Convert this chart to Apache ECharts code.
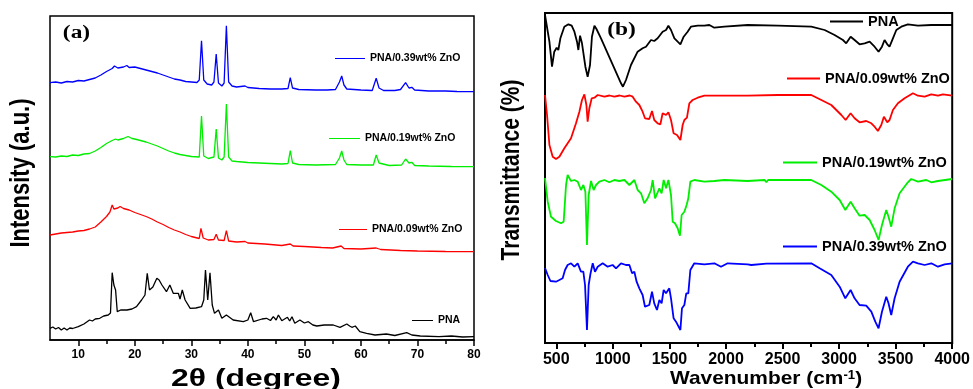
<!DOCTYPE html>
<html><head><meta charset="utf-8">
<script src="https://cdn.jsdelivr.net/npm/echarts@6/dist/echarts.min.js"></script>
<style>html,body{margin:0;padding:0;background:#fff}#c{width:973px;height:389px}</style>
</head><body><div id="c"></div><script>
// ---------- Panel (a): XRD, [2theta (deg), intensity (a.u.)] ----------
const xrdTicks = [10, 20, 30, 40, 50, 60, 70, 80];
const xrdMinorTicks = [15, 25, 35, 45, 55, 65, 75];
const xrdPNA = [[5,11.7],[5.5,13],[6,11],[6.5,12.5],[7,10],[7.5,12],[8,10],[8.5,12],[9,11.5],[10,13.3],[11,16],[12,20],[12.5,19],[13,21],[13.8,21.7],[14.5,24],[15.3,25],[15.7,27],[16.0,67.3],[16.3,55],[16.6,50],[16.9,28.3],[17.5,30],[18.6,30],[19.5,31],[20.3,33.3],[21.2,40],[21.8,45],[22.2,66.7],[22.6,50],[23.2,53],[23.9,61.7],[24.3,60],[24.8,55],[25.6,48.3],[26.2,55],[26.8,46.7],[27.7,46.7],[28.0,41],[28.4,50],[28.9,40],[29.8,31.7],[30.8,32],[31.8,33.3],[32.2,40],[32.5,70],[32.9,40],[33.3,67.3],[33.7,35],[34.1,26.7],[34.8,30],[35.4,21.7],[36.2,25],[37.4,20],[39.2,18.3],[40.0,20],[40.5,27.3],[41.0,18.3],[42.5,21],[43.3,21.7],[44.0,19.5],[44.5,23.3],[45.0,20],[45.4,25],[46.0,19.3],[47.0,22.7],[47.4,19],[47.8,23.3],[48.3,16.7],[49.2,20],[50.0,17],[50.7,18.3],[51.5,15],[52.2,14],[53.5,15],[55.1,15],[56.3,12.7],[57.5,16],[58.0,14],[58.4,12.7],[59.0,14],[59.8,8.3],[61.0,6.7],[62.5,5],[64.5,6],[66,4.5],[68.1,7.3],[69,5],[70.5,4],[73.8,3.3],[76,4],[78,3],[80,3.3]];
const xrdZnO009 = [[5,105],[6,106],[7,107],[8,107.5],[9,108],[10,109],[11,109.5],[12,111],[13,113],[14,118],[15,123.5],[15.6,128],[16.0,135],[16.3,131],[17,132],[17.4,133.5],[18,131.5],[19,130],[20,127.5],[21,125.5],[22,123.5],[23,121],[24,118],[25,115.5],[26,112.5],[27,110],[28,108],[29,105.5],[30,103.5],[31.4,101.5],[31.7,111.7],[32.1,102],[33,100],[34.0,100.5],[34.4,105.7],[34.8,100],[35.8,99.5],[36.2,109.3],[36.6,99],[38,98],[39.5,98.5],[40,97],[43,96],[46,94.5],[47.5,96],[48,94],[50,93.5],[53,92.5],[55,92],[56.5,94],[57,91.5],[60,91],[62.7,92],[63.5,90.5],[67,89.5],[70,89],[75,88.5],[80,88.3]];
const xrdZnO019 = [[5,183.3],[6,183],[7,184],[8,183.5],[9,185],[10,184.5],[11,186],[12,186.5],[13,189],[14,192.5],[15,196.5],[16,199.5],[16.6,201],[17,200],[18,201.5],[18.8,203.5],[19.5,201.5],[20,201],[21,199.5],[22,198],[23,196],[24,194],[25,191.5],[26,189],[27,187],[28,185.5],[29,184.5],[30,183.5],[31.4,183],[31.8,224],[32.2,184],[33,181.5],[34.0,183],[34.4,211],[34.8,182],[35.4,180],[35.8,183],[36.2,236],[36.6,183],[37.2,179],[38,178.5],[40,177.5],[42,177],[44,176.5],[46,176],[47.1,176.5],[47.5,189.3],[47.9,177],[49,175.5],[52,175],[55.5,175.5],[56.2,182],[56.6,189],[57.0,180],[57.5,175.5],[60,175],[62.2,175],[62.7,185],[63.2,177],[65,174.5],[67.2,175],[67.9,181],[68.5,177],[69.0,177.7],[69.5,174.5],[72,174],[76,173.5],[80,173.3]];
const xrdZnO039 = [[5,257.3],[6,258],[7,257],[8,258.5],[9,258],[10,259.5],[11,259],[12,260.5],[13,262],[14,265],[15,268.5],[16,271.5],[16.4,274],[17,272],[18,273],[18.6,274.5],[19,272.5],[20,273],[21,271.5],[22,270],[23,268.5],[24,267],[25,265],[26,263],[27,261],[28,260],[29,258.5],[30,258],[31,257.5],[31.4,260],[31.8,299.3],[32.2,260],[32.8,256],[33.6,255],[34.0,258],[34.4,286],[34.8,257],[35.4,254],[35.8,257],[36.2,314.3],[36.6,258],[37.2,254],[38,253],[39.5,254],[40,252.5],[42,251.5],[44,251],[46,251],[47.1,251.5],[47.5,262.3],[47.9,252],[49,250.5],[52,250],[54,250],[55.5,250.5],[56.2,258],[56.6,264],[57.0,255],[57.5,251],[60,250],[62,249.5],[62.7,261.7],[63.2,252],[64,249.5],[66,249.5],[67.0,250.5],[67.9,257.3],[68.5,252],[69.0,252.7],[69.5,250],[72,249],[75,249],[77,248.5],[80,248.3]];

// ---------- Panel (b): FTIR, [wavenumber (cm-1), transmittance] ----------
const ftirTicks = [500, 1000, 1500, 2000, 2500, 3000, 3500, 4000];
const ftirMinorTicks = [750, 1250, 1750, 2250, 2750, 3250, 3750];
const ftirPNA = [[400,328],[439,301.3],[462,276.3],[482,291.3],[503,295.3],[518,293],[536,304.7],[571,316.3],[607,318.7],[636,317.3],[660,311.3],[683,301.3],[695,293],[710,307.3],[727,299.7],[757,276.3],[777,266.3],[798,278],[815,306.3],[837,317.3],[855,314],[895,304.7],[954,289.7],[1013,274.7],[1072,259.7],[1089,256.3],[1116,263],[1160,278],[1219,291.3],[1263,294.7],[1293,296.3],[1337,303],[1366,302],[1396,304.7],[1440,311.3],[1470,313],[1491,317.3],[1514,313],[1544,304.7],[1573,301.3],[1597,298.7],[1626,306.3],[1661,311.3],[1690,316.3],[1750,317.3],[1809,317.3],[1853,318],[1897,315.3],[1986,316.3],[2192,318],[2459,317.3],[2754,316.3],[2872,313],[2960,308],[3034,303],[3063,299.7],[3102,306.3],[3137,303],[3181,298.7],[3226,299.7],[3270,301.3],[3314,296.3],[3349,291.3],[3379,296.3],[3402,303],[3426,298.7],[3446,296.3],[3476,304.7],[3506,313],[3550,316.3],[3608,318.7],[3697,317.3],[3815,318],[3933,318],[4000,318]];
const ftirZnO009 = [[400,248],[418,228],[439,198],[468,186.3],[497,184],[527,186.3],[571,194.7],[630,204.7],[674,219.7],[704,231.3],[727,243],[748,248.7],[766,238],[777,221.3],[792,234.7],[813,244.7],[837,245.3],[866,248],[925,246.3],[970,247.5],[1013,246.3],[1060,247.5],[1102,246.3],[1150,247.5],[1175,246.3],[1204,241.3],[1234,238],[1263,231.3],[1284,224.7],[1322,224],[1346,232],[1366,223],[1396,219.7],[1420,218.7],[1440,229.7],[1470,228],[1491,230.7],[1514,223],[1537,209.7],[1567,208],[1597,203],[1617,218],[1632,223],[1655,225.3],[1676,239.7],[1705,243],[1750,245.3],[1809,247.3],[1956,247.3],[2192,247.3],[2459,248],[2754,248],[2843,243],[2931,238],[3020,228],[3058,223],[3102,229.7],[3137,224.7],[3181,220.7],[3240,222],[3285,219.7],[3314,216.3],[3343,212],[3373,218],[3396,226.3],[3426,220.7],[3446,223],[3476,233],[3520,239.7],[3579,244.7],[3653,249.7],[3697,247.3],[3756,246.3],[3815,248.7],[3874,247.3],[3918,248.7],[4000,247.3]];
const ftirZnO019 = [[400,165],[424,141.3],[453,126.3],[497,122],[541,119.7],[565,121.3],[586,158],[600,168],[630,162],[660,163],[689,161.3],[718,153],[739,158],[757,151.3],[771,98],[786,148],[807,162],[830,153],[851,158],[881,161.3],[925,163],[969,160.7],[1013,163],[1057,162],[1102,163],[1146,158],[1190,163],[1219,153],[1249,149.7],[1278,139.7],[1307,144.7],[1337,153],[1352,163],[1373,144.7],[1390,144.7],[1411,154.7],[1431,149.7],[1449,163],[1470,154.7],[1491,163],[1514,148],[1529,121.3],[1549,119.7],[1573,114.7],[1593,107.3],[1608,128],[1632,131.3],[1652,138],[1667,144.7],[1685,161.3],[1720,163],[1809,161.3],[1897,162],[1986,163],[2192,162],[2342,163],[2357,160.7],[2372,163],[2754,163],[2843,158],[2931,151.3],[3005,143],[3055,133],[3102,141.3],[3137,134.7],[3181,127.3],[3226,128],[3270,123],[3314,113],[3349,103],[3379,118],[3417,133],[3437,126.3],[3461,116.3],[3491,134.7],[3535,149.7],[3608,160.7],[3638,164],[3697,161.3],[3771,163],[3815,160.7],[3874,162],[4000,164]];
const ftirZnO039 = [[400,75],[424,68],[448,62],[497,61.3],[527,63],[556,64.7],[577,73],[600,78],[630,79.7],[660,76.3],[689,79.7],[718,71.3],[739,71.3],[754,58],[771,13],[786,58],[801,68.7],[822,79.7],[842,71.3],[866,76.3],[910,79.7],[954,76.3],[998,78],[1028,74.7],[1072,79.7],[1116,78],[1146,78],[1170,69.7],[1190,71.3],[1210,61.3],[1234,54.7],[1263,48],[1284,36.3],[1322,38],[1346,51.3],[1366,39.7],[1390,33],[1411,43],[1431,39.7],[1449,53],[1470,49.7],[1499,54.7],[1514,44.7],[1537,24.7],[1558,21.3],[1573,23],[1597,13],[1611,34.7],[1632,38],[1649,49.7],[1667,49.7],[1685,73],[1720,79.7],[1809,78.7],[1897,79.7],[1956,76.3],[2015,79.7],[2192,78.7],[2224,78],[2357,79.3],[2754,79.7],[2828,74.7],[2931,68],[3005,56.3],[3055,44.7],[3102,53],[3137,44.7],[3181,38],[3240,37.3],[3285,31.3],[3320,21.3],[3349,14.7],[3379,31.3],[3417,46.3],[3437,39.7],[3461,28],[3491,44.7],[3535,61.3],[3608,76.3],[3653,81.3],[3697,79.7],[3756,78],[3815,79.7],[3874,76.3],[3933,78.7],[4000,79.7]];

const names = ['PNA', 'PNA/0.09wt% ZnO', 'PNA/0.19wt% ZnO', 'PNA/0.39wt% ZnO'];
const colors = ['#000000', '#ff0000', '#00ee00', '#0000ff'];

const SANS = 'Liberation Sans, Arial, sans-serif';
const SERIF = 'Liberation Serif, Times New Roman, serif';

function mainX(grid, min, max, ticks, fs, lw) {
  return {
    type: 'value', gridIndex: grid, min: min, max: max, position: 'bottom',
    axisLine: {show: true, onZero: false, lineStyle: {color: '#000', width: lw}},
    axisTick: {show: true, inside: false, length: 6, customValues: ticks, lineStyle: {color: '#000', width: lw}},
    axisLabel: {show: true, customValues: ticks, margin: 9, color: '#000', fontFamily: SANS, fontWeight: 'bold', fontSize: fs,
      formatter: function (v) { return String(v); }},
    splitLine: {show: false}
  };
}
function minorX(grid, min, max, ticks, lw) {
  return {
    type: 'value', gridIndex: grid, min: min, max: max, position: 'bottom',
    axisLine: {show: false, onZero: false},
    axisTick: {show: true, inside: false, length: 4, customValues: ticks, lineStyle: {color: '#000', width: lw}},
    axisLabel: {show: false},
    splitLine: {show: false}
  };
}
function hiddenY(grid, max) {
  return {type: 'value', gridIndex: grid, min: 0, max: max,
    axisLine: {show: false}, axisTick: {show: false}, axisLabel: {show: false}, splitLine: {show: false}};
}
function line(name, data, color, xi, yi, w) {
  return {type: 'line', name: name, data: data, xAxisIndex: xi, yAxisIndex: yi,
    symbol: 'none', showSymbol: false, lineStyle: {color: color, width: w}, itemStyle: {color: color},
    animation: false, silent: true};
}
function leg(name, left, top, w, h, fs) {
  return {data: [name], left: left, top: top, padding: 0, icon: 'rect', itemWidth: w, itemHeight: h, selectedMode: false,
    itemStyle: {borderWidth: 0},
    textStyle: {color: '#000', fontFamily: SANS, fontWeight: 'bold', fontSize: fs}};
}

const chart = echarts.init(document.getElementById('c'), null, {renderer: 'canvas'});
chart.setOption({
  backgroundColor: '#fff',
  animation: false,
  grid: [
    {left: 50, top: 16, width: 424, height: 324, show: true, borderColor: '#000', borderWidth: 1.5, backgroundColor: 'transparent'},
    {left: 545, top: 13, width: 408, height: 330, show: true, borderColor: '#000', borderWidth: 2, backgroundColor: 'transparent'}
  ],
  xAxis: [
    mainX(0, 5, 80, xrdTicks, 12, 1.5),
    minorX(0, 5, 80, xrdMinorTicks, 1.5),
    mainX(1, 400, 4000, ftirTicks, 16, 2),
    minorX(1, 400, 4000, ftirMinorTicks, 2)
  ],
  yAxis: [hiddenY(0, 324), hiddenY(1, 330)],
  legend: [
    leg(names[3], 335, 53, 30, 1, 10.5),
    leg(names[2], 329, 133, 31, 1, 10.5),
    leg(names[1], 339, 224, 28, 1, 10.5),
    leg(names[0], 412, 315, 21, 1, 10.5),
    leg(names[0], 830, 14, 33, 2, 14.5),
    leg(names[1], 787, 71, 33, 2, 14.5),
    leg(names[2], 783, 155, 34, 2, 14.5),
    leg(names[3], 783, 239, 34, 2, 14.5)
  ],
  series: [
    line(names[0], xrdPNA, colors[0], 0, 0, 1.3),
    line(names[1], xrdZnO009, colors[1], 0, 0, 1.3),
    line(names[2], xrdZnO019, colors[2], 0, 0, 1.3),
    line(names[3], xrdZnO039, colors[3], 0, 0, 1.3),
    line(names[0], ftirPNA, colors[0], 2, 1, 1.8),
    line(names[1], ftirZnO009, colors[1], 2, 1, 1.8),
    line(names[2], ftirZnO019, colors[2], 2, 1, 1.8),
    line(names[3], ftirZnO039, colors[3], 2, 1, 1.8)
  ],
  graphic: [
    {type: 'text', x: 76.5, y: 33, scaleX: 1.3, style: {text: '(a)', font: 'bold 18px ' + SERIF, fill: '#000', align: 'center', verticalAlign: 'middle'}},
    {type: 'text', x: 621.5, y: 30, scaleX: 1.3, style: {text: '(b)', font: 'bold 18px ' + SERIF, fill: '#000', align: 'center', verticalAlign: 'middle'}},
    {type: 'text', x: 256, y: 379, scaleX: 1.33, style: {text: '2θ (degree)', font: 'bold 24px ' + SANS, fill: '#000', align: 'center', verticalAlign: 'middle'}},
    {type: 'text', x: 670, y: 379, scaleX: 1.1, style: {text: 'Wavenumber (cm{sup|-1})', font: 'bold 19px ' + SANS, fill: '#000', align: 'left', verticalAlign: 'middle',
      rich: {sup: {fontSize: 12, fontWeight: 'bold', fontFamily: SANS, fill: '#000', verticalAlign: 'top'}}}},
    {type: 'text', x: 21, y: 173, rotation: Math.PI / 2, scaleY: 1.25, style: {text: 'Intensity (a.u.)', font: 'bold 22px ' + SANS, fill: '#000', align: 'center', verticalAlign: 'middle'}},
    {type: 'text', x: 512, y: 170, rotation: Math.PI / 2, scaleY: 1.2, style: {text: 'Transmittance (%)', font: 'bold 21px ' + SANS, fill: '#000', align: 'center', verticalAlign: 'middle'}}
  ]
});
</script></body></html>
